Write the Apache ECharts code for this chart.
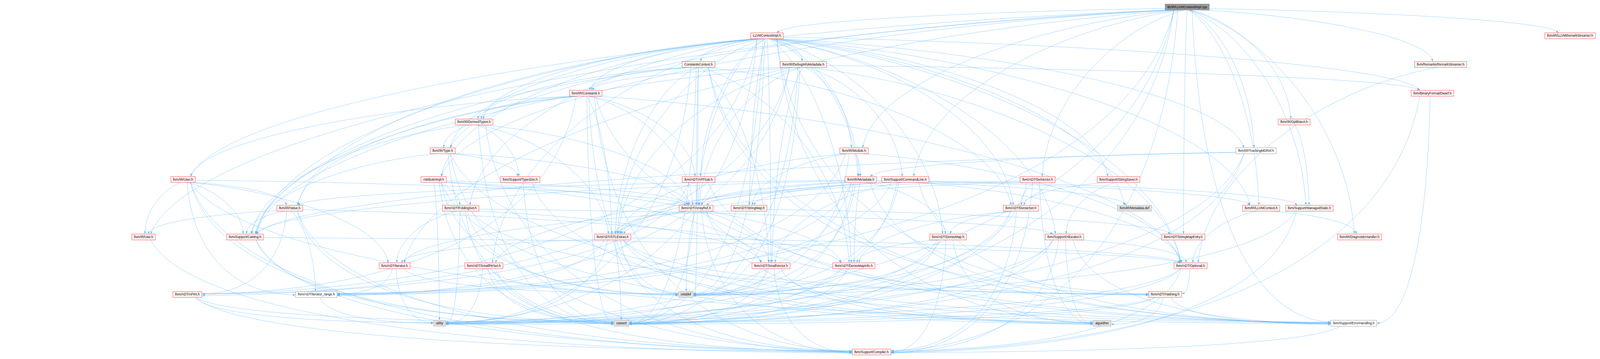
<!DOCTYPE html>
<html>
<head>
<meta charset="utf-8" />
<title>lib/IR/LLVMContextImpl.cpp include graph</title>
<script src="https://cdn.jsdelivr.net/npm/echarts@6/dist/echarts.min.js"></script>
<style>
    html, body { margin: 0; padding: 0; width: 100%; height: 100%; overflow: hidden; background: #ffffff; }
    #chart { width: 100vw; height: 100vh; }
</style>
</head>
<body>
<div id="chart"></div>
<script type="text/javascript">
// files in the graph, with the horizontal place and the row (rank)
var nodeNames = [
    'lib/IR/LLVMContextImpl.cpp',
    'LLVMContextImpl.h', 'llvm/IR/LLVMRemarkStreamer.h',
    'ConstantsContext.h', 'llvm/IR/DebugInfoMetadata.h', 'llvm/Remarks/RemarkStreamer.h',
    'llvm/IR/Constants.h', 'llvm/BinaryFormat/Dwarf.h',
    'llvm/IR/DerivedTypes.h', 'llvm/IR/OptBisect.h',
    'llvm/IR/Type.h', 'llvm/IR/Module.h', 'llvm/IR/TrackingMDRef.h',
    'llvm/IR/User.h', 'AttributeImpl.h', 'llvm/Support/TypeSize.h', 'llvm/ADT/APFloat.h',
    'llvm/IR/Metadata.h', 'llvm/Support/CommandLine.h', 'llvm/ADT/SetVector.h', 'llvm/Support/StringSaver.h',
    'llvm/IR/Value.h', 'llvm/ADT/FoldingSet.h', 'llvm/ADT/ArrayRef.h', 'llvm/ADT/StringMap.h',
    'llvm/ADT/DenseSet.h', 'llvm/IR/Metadata.def', 'llvm/IR/LLVMContext.h', 'llvm/Support/ManagedStatic.h',
    'llvm/IR/Use.h', 'llvm/Support/Casting.h', 'llvm/ADT/STLExtras.h', 'llvm/ADT/DenseMap.h',
    'llvm/Support/Allocator.h', 'llvm/ADT/StringMapEntry.h', 'llvm/IR/DiagnosticHandler.h',
    'llvm/ADT/iterator.h', 'llvm/ADT/SmallPtrSet.h', 'llvm/ADT/SmallVector.h', 'llvm/ADT/DenseMapInfo.h', 'llvm/ADT/Optional.h',
    'llvm/ADT/APInt.h', 'llvm/ADT/iterator_range.h', 'cstddef', 'llvm/ADT/Hashing.h',
    'utility', 'cassert', 'algorithm', 'llvm/Support/ErrorHandling.h',
    'llvm/Support/Compiler.h'
];
var nodeX = [
    4961,
    3205, 6561,
    2919, 3357, 6020,
    2448, 5986,
    1981, 5408,
    1850, 3569, 5249,
    765, 1812, 2174, 2919, 3597, 3783, 4336, 4674,
    1211, 1925, 2909, 3130, 4266, 4741, 5270, 5472,
    600, 1024, 2560, 3962, 4448, 4945, 5681,
    1649, 2022, 3222, 3568, 4975,
    783, 1322, 2866, 4869,
    1837, 2597, 4605, 5657,
    3642
];
var nodeRank = [
    0,
    1, 1,
    2, 2, 2,
    3, 3,
    4, 4,
    5, 5, 5,
    6, 6, 6, 6, 6, 6, 6, 6,
    7, 7, 7, 7, 7, 7, 7, 7,
    8, 8, 8, 8, 8, 8, 8,
    9, 9, 9, 9, 9,
    10, 10, 10, 10,
    11, 11, 11, 11,
    12
];
// root: the file itself, red: has more includes not shown, leaf: system header, plain: no hidden includes
var nodeKind = [
    'root',
    'red', 'red',
    'red', 'red', 'red',
    'red', 'red',
    'red', 'red',
    'red', 'red', 'plain',
    'red', 'red', 'red', 'red', 'red', 'red', 'red', 'red',
    'red', 'red', 'red', 'red', 'red', 'leaf', 'red', 'red',
    'red', 'red', 'red', 'red', 'red', 'red', 'red',
    'red', 'red', 'red', 'red', 'red',
    'red', 'plain', 'leaf', 'red',
    'leaf', 'leaf', 'leaf', 'plain',
    'red'
];

// who includes whom
var includes = [
    ['lib/IR/LLVMContextImpl.cpp', ['LLVMContextImpl.h', 'AttributeImpl.h', 'llvm/ADT/SetVector.h', 'llvm/ADT/StringMapEntry.h',
        'llvm/ADT/iterator.h', 'llvm/ADT/iterator_range.h', 'llvm/IR/DiagnosticHandler.h', 'llvm/IR/LLVMRemarkStreamer.h',
        'llvm/IR/Module.h', 'llvm/IR/OptBisect.h', 'llvm/IR/Type.h', 'llvm/IR/Use.h', 'llvm/IR/User.h',
        'llvm/Remarks/RemarkStreamer.h', 'llvm/Support/CommandLine.h', 'llvm/Support/Compiler.h',
        'llvm/Support/ErrorHandling.h', 'llvm/Support/ManagedStatic.h', 'llvm/IR/LLVMContext.h',
        'llvm/IR/TrackingMDRef.h', 'cassert', 'utility']],
    ['LLVMContextImpl.h', ['ConstantsContext.h', 'AttributeImpl.h', 'llvm/ADT/APFloat.h', 'llvm/ADT/APInt.h',
        'llvm/ADT/ArrayRef.h', 'llvm/ADT/DenseMap.h', 'llvm/ADT/DenseMapInfo.h', 'llvm/ADT/DenseSet.h',
        'llvm/ADT/FoldingSet.h', 'llvm/ADT/Hashing.h', 'llvm/ADT/Optional.h', 'llvm/ADT/STLExtras.h',
        'llvm/ADT/SmallPtrSet.h', 'llvm/ADT/SmallVector.h', 'llvm/ADT/StringMap.h', 'llvm/BinaryFormat/Dwarf.h',
        'llvm/IR/Constants.h', 'llvm/IR/DebugInfoMetadata.h', 'llvm/IR/DerivedTypes.h', 'llvm/IR/LLVMContext.h',
        'llvm/IR/Metadata.h', 'llvm/IR/Module.h', 'llvm/IR/TrackingMDRef.h', 'llvm/IR/Type.h', 'llvm/IR/Value.h',
        'llvm/Support/Allocator.h', 'llvm/Support/Casting.h', 'llvm/Support/StringSaver.h', 'llvm/IR/Metadata.def',
        'algorithm', 'cassert', 'cstddef', 'utility']],
    ['ConstantsContext.h', ['llvm/ADT/ArrayRef.h', 'llvm/ADT/DenseMapInfo.h', 'llvm/ADT/DenseSet.h', 'llvm/ADT/Hashing.h',
        'llvm/ADT/STLExtras.h', 'llvm/ADT/SmallVector.h', 'llvm/IR/Constants.h', 'llvm/IR/DerivedTypes.h',
        'llvm/Support/Casting.h', 'llvm/Support/ErrorHandling.h', 'cassert', 'cstddef', 'utility']],
    ['llvm/IR/DebugInfoMetadata.h', ['llvm/ADT/APInt.h', 'llvm/ADT/ArrayRef.h', 'llvm/ADT/Optional.h', 'llvm/ADT/STLExtras.h',
        'llvm/ADT/SmallVector.h', 'llvm/ADT/iterator_range.h', 'llvm/BinaryFormat/Dwarf.h', 'llvm/IR/Constants.h',
        'llvm/IR/Metadata.h', 'llvm/Support/Casting.h', 'llvm/Support/CommandLine.h', 'cassert', 'cstddef']],
    ['llvm/Remarks/RemarkStreamer.h', ['llvm/ADT/Optional.h']],
    ['llvm/IR/Constants.h', ['llvm/ADT/APFloat.h', 'llvm/ADT/APInt.h', 'llvm/ADT/ArrayRef.h', 'llvm/ADT/Optional.h',
        'llvm/ADT/STLExtras.h', 'llvm/IR/DerivedTypes.h', 'llvm/IR/User.h', 'llvm/IR/Value.h', 'llvm/Support/Casting.h',
        'llvm/Support/Compiler.h', 'llvm/Support/ErrorHandling.h', 'cassert', 'cstddef']],
    ['llvm/BinaryFormat/Dwarf.h', ['llvm/Support/Compiler.h', 'llvm/Support/ErrorHandling.h']],
    ['llvm/IR/DerivedTypes.h', ['llvm/ADT/ArrayRef.h', 'llvm/ADT/STLExtras.h', 'llvm/IR/Type.h', 'llvm/Support/Casting.h',
        'llvm/Support/Compiler.h', 'llvm/Support/TypeSize.h', 'cassert']],
    ['llvm/IR/OptBisect.h', ['llvm/Support/ManagedStatic.h']],
    ['llvm/IR/Type.h', ['llvm/ADT/ArrayRef.h', 'llvm/Support/Casting.h', 'llvm/Support/Compiler.h',
        'llvm/Support/ErrorHandling.h', 'llvm/Support/TypeSize.h', 'cassert']],
    ['llvm/IR/Module.h', ['llvm/ADT/Optional.h', 'llvm/ADT/STLExtras.h', 'llvm/ADT/StringMap.h',
        'llvm/ADT/iterator_range.h', 'llvm/IR/Metadata.h', 'cstddef']],
    ['llvm/IR/TrackingMDRef.h', ['llvm/IR/Metadata.h', 'llvm/Support/Casting.h', 'cassert', 'utility']],
    ['llvm/IR/User.h', ['llvm/ADT/ArrayRef.h', 'llvm/ADT/iterator.h', 'llvm/ADT/iterator_range.h', 'llvm/IR/Use.h',
        'llvm/IR/Value.h', 'llvm/Support/Casting.h', 'llvm/Support/Compiler.h', 'llvm/Support/ErrorHandling.h', 'cassert']],
    ['AttributeImpl.h', ['llvm/ADT/ArrayRef.h', 'llvm/ADT/DenseMapInfo.h', 'llvm/ADT/FoldingSet.h',
        'llvm/ADT/SmallVector.h', 'algorithm', 'cassert', 'cstddef', 'utility']],
    ['llvm/Support/TypeSize.h', ['algorithm', 'cassert']],
    ['llvm/ADT/APFloat.h', ['llvm/ADT/APInt.h', 'llvm/ADT/ArrayRef.h', 'llvm/Support/ErrorHandling.h']],
    ['llvm/IR/Metadata.h', ['llvm/ADT/ArrayRef.h', 'llvm/ADT/DenseMap.h', 'llvm/ADT/DenseMapInfo.h', 'llvm/ADT/STLExtras.h',
        'llvm/ADT/iterator_range.h', 'llvm/IR/LLVMContext.h', 'llvm/IR/Value.h', 'llvm/IR/Metadata.def',
        'llvm/Support/Casting.h', 'llvm/Support/ErrorHandling.h', 'cassert', 'cstddef', 'utility']],
    ['llvm/Support/CommandLine.h', ['llvm/ADT/Optional.h', 'llvm/ADT/STLExtras.h', 'llvm/ADT/SmallPtrSet.h',
        'llvm/ADT/SmallVector.h', 'llvm/ADT/StringMap.h', 'llvm/ADT/iterator_range.h', 'llvm/Support/ErrorHandling.h',
        'llvm/Support/ManagedStatic.h', 'cassert', 'cstddef']],
    ['llvm/ADT/SetVector.h', ['llvm/ADT/ArrayRef.h', 'llvm/ADT/DenseSet.h', 'llvm/ADT/STLExtras.h',
        'llvm/Support/Compiler.h', 'algorithm', 'cassert']],
    ['llvm/Support/StringSaver.h', ['llvm/ADT/DenseSet.h', 'llvm/Support/Allocator.h']],
    ['llvm/IR/Value.h', ['llvm/ADT/APInt.h', 'llvm/ADT/DenseMapInfo.h', 'llvm/ADT/iterator_range.h', 'llvm/IR/Use.h',
        'llvm/Support/Casting.h', 'llvm/Support/Compiler.h', 'cassert']],
    ['llvm/ADT/FoldingSet.h', ['llvm/ADT/Hashing.h', 'llvm/ADT/SmallVector.h', 'llvm/ADT/iterator.h',
        'llvm/Support/Allocator.h', 'cassert', 'cstddef', 'utility']],
    ['llvm/ADT/ArrayRef.h', ['llvm/ADT/Hashing.h', 'llvm/ADT/STLExtras.h', 'llvm/ADT/SmallVector.h',
        'llvm/Support/Compiler.h', 'algorithm', 'cassert', 'cstddef']],
    ['llvm/ADT/StringMap.h', ['llvm/ADT/StringMapEntry.h', 'llvm/ADT/iterator.h']],
    ['llvm/ADT/DenseSet.h', ['llvm/ADT/DenseMap.h', 'llvm/ADT/DenseMapInfo.h', 'llvm/Support/Compiler.h', 'cstddef', 'utility']],
    ['llvm/IR/LLVMContext.h', ['llvm/IR/DiagnosticHandler.h', 'llvm/ADT/Optional.h']],
    ['llvm/Support/ManagedStatic.h', ['llvm/Support/Compiler.h', 'cstddef']],
    ['llvm/IR/Use.h', ['llvm/Support/Compiler.h']],
    ['llvm/Support/Casting.h', ['llvm/ADT/Optional.h', 'llvm/Support/Compiler.h', 'cassert']],
    ['llvm/ADT/STLExtras.h', ['llvm/ADT/Hashing.h', 'llvm/ADT/Optional.h', 'llvm/ADT/iterator.h', 'llvm/ADT/iterator_range.h',
        'llvm/Support/Compiler.h', 'llvm/Support/ErrorHandling.h', 'algorithm', 'cassert', 'cstddef', 'utility']],
    ['llvm/ADT/DenseMap.h', ['llvm/ADT/DenseMapInfo.h', 'llvm/Support/Compiler.h', 'algorithm', 'cassert', 'cstddef', 'utility']],
    ['llvm/Support/Allocator.h', ['llvm/ADT/Optional.h', 'llvm/Support/Compiler.h', 'llvm/Support/ErrorHandling.h',
        'algorithm', 'cassert', 'cstddef', 'utility']],
    ['llvm/ADT/iterator.h', ['llvm/ADT/iterator_range.h', 'cstddef', 'utility']],
    ['llvm/ADT/SmallPtrSet.h', ['llvm/Support/Compiler.h', 'cassert', 'cstddef', 'utility']],
    ['llvm/ADT/SmallVector.h', ['llvm/Support/Compiler.h', 'algorithm', 'cassert', 'cstddef', 'utility']],
    ['llvm/ADT/DenseMapInfo.h', ['cassert', 'cstddef', 'utility']],
    ['llvm/ADT/Optional.h', ['llvm/ADT/Hashing.h', 'llvm/Support/Compiler.h', 'cassert', 'utility']],
    ['llvm/ADT/APInt.h', ['llvm/Support/Compiler.h', 'cassert', 'utility']],
    ['llvm/ADT/iterator_range.h', ['utility']],
    ['llvm/ADT/Hashing.h', ['llvm/Support/ErrorHandling.h', 'algorithm', 'cassert', 'utility']],
    ['llvm/Support/ErrorHandling.h', ['llvm/Support/Compiler.h']]
];

// sizes below are in pixels of the 6686 x 920 picture, scaled to the page at draw time
var FULL_W = 6686, FULL_H = 920;
var FONT_PX = 13.5;
var FONT_FAMILY = '"Liberation Sans", Arial, Helvetica, sans-serif';
var ROW0 = 18;        // centre of the first row
var ROW_GAP = 73.67;  // distance between rows
var BOX_H = 25;
var PAD_X = 9.5;
var EDGE = '#63b8ff';

var kindStyle = {
    root: { fill: '#999999', stroke: '#666666' },
    red: { fill: '#fff0f0', stroke: '#ff0000' },
    leaf: { fill: '#e0e0e0', stroke: '#999999' },
    plain: { fill: '#ffffff', stroke: '#666666' }
};

var dom = document.getElementById('chart');
var S = Math.min(dom.clientWidth / FULL_W, dom.clientHeight / FULL_H);
var FONT = (FONT_PX * S) + 'px ' + FONT_FAMILY;
var LW = Math.max(S, 0.6);

// box widths follow the label text
var ctx = document.createElement('canvas').getContext('2d');
ctx.font = FONT_PX + 'px ' + FONT_FAMILY;
var boxW = nodeNames.map(function (n) {
    return Math.round(ctx.measureText(n).width + 2 * PAD_X);
});

var index = {};
nodeNames.forEach(function (n, i) { index[n] = i; });

var edgeData = [];
includes.forEach(function (inc) {
    var s = index[inc[0]];
    inc[1].forEach(function (name) {
        var t = index[name];
        edgeData.push([nodeX[s], nodeRank[s], nodeX[t], nodeRank[t], s, t]);
    });
});

function clamp(v, lo, hi) { return Math.max(lo, Math.min(hi, v)); }

// point where a ray from the box centre leaves the box
function boxExit(c, dx, dy, hw, hh) {
    var len = Math.sqrt(dx * dx + dy * dy) || 1;
    var ux = dx / len, uy = dy / len;
    var tx = ux !== 0 ? hw / Math.abs(ux) : Infinity;
    var ty = uy !== 0 ? hh / Math.abs(uy) : Infinity;
    var k = Math.min(tx, ty);
    return [c[0] + ux * k, c[1] + uy * k];
}

function renderEdge(params, api) {
    var s = api.value(4), t = api.value(5);
    var a = api.coord([api.value(0), api.value(1)]);
    var b = api.coord([api.value(2), api.value(3)]);
    var hwS = boxW[s] * S / 2, hwT = boxW[t] * S / 2, hh = BOX_H * S / 2;
    var dx = b[0] - a[0], dy = b[1] - a[1];
    var p0, p3, c1, c2, DX, DY;

    if (nodeRank[t] >= 10 && Math.abs(dx) > hwT * 1.5) {
        // down first, then in from the side of the low node
        p0 = [a[0] + clamp(dx * 0.03, -0.6 * hwS, 0.6 * hwS), a[1] + hh];
        p3 = [b[0] - (dx > 0 ? 1 : -1) * (hwT + LW), b[1] + ((s % 5) - 2) * 0.18 * hh];
        DX = p3[0] - p0[0]; DY = p3[1] - p0[1];
        c1 = [p0[0] + 0.05 * DX, p0[1] + 0.6 * DY];
        c2 = [p3[0] - 0.6 * DX, p3[1] - 0.02 * DY];
    } else {
        // out sideways, then down into the top of the node
        p0 = boxExit(a, dx, dy, hwS, hh);
        p3 = [b[0] - clamp(dx * 0.03, -0.6 * hwT, 0.6 * hwT), b[1] - hh - LW];
        DX = p3[0] - p0[0]; DY = p3[1] - p0[1];
        c1 = [p0[0] + 0.45 * DX, p0[1] + 0.1 * DY];
        c2 = [p3[0] - 0.05 * DX, p3[1] - 0.5 * DY];
    }

    // arrow head along the end tangent
    var ex = p3[0] - c2[0], ey = p3[1] - c2[1];
    var el = Math.sqrt(ex * ex + ey * ey) || 1;
    ex /= el; ey /= el;
    var aL = 10 * S, aW = 3.6 * S;
    var base = [p3[0] - ex * aL, p3[1] - ey * aL];
    var head = [[p3[0], p3[1]], [base[0] - ey * aW, base[1] + ex * aW], [base[0] + ey * aW, base[1] - ex * aW]];

    return {
        type: 'group',
        children: [{
            type: 'bezierCurve',
            shape: {
                x1: p0[0], y1: p0[1], x2: base[0], y2: base[1],
                cpx1: c1[0], cpy1: c1[1], cpx2: c2[0], cpy2: c2[1]
            },
            style: { stroke: EDGE, fill: null, lineWidth: LW }
        }, {
            type: 'polygon',
            shape: { points: head },
            style: { fill: EDGE, stroke: EDGE, lineWidth: LW * 0.5 }
        }]
    };
}

function renderNode(params, api) {
    var i = api.value(2);
    var c = api.coord([api.value(0), api.value(1)]);
    var st = kindStyle[nodeKind[i]];
    var w = boxW[i] * S, h = BOX_H * S;
    return {
        type: 'group',
        children: [{
            type: 'rect',
            shape: { x: c[0] - w / 2, y: c[1] - h / 2, width: w, height: h },
            style: { fill: st.fill, stroke: st.stroke, lineWidth: LW }
        }, {
            type: 'text',
            x: c[0],
            y: c[1] + 0.5 * S,
            style: {
                text: nodeNames[i],
                font: FONT,
                fill: '#000000',
                align: 'center',
                verticalAlign: 'middle'
            }
        }]
    };
}

var myChart = echarts.init(dom);

myChart.setOption({
    backgroundColor: '#ffffff',
    animation: false,
    grid: { left: 0, right: 0, top: 0, bottom: 0 },
    xAxis: { type: 'value', min: 0, max: FULL_W, show: false },
    yAxis: {
        type: 'value',
        inverse: true,
        min: -ROW0 / ROW_GAP,
        max: (FULL_H - ROW0) / ROW_GAP,
        show: false
    },
    series: [{
        type: 'custom',
        coordinateSystem: 'cartesian2d',
        data: edgeData,
        silent: true,
        clip: false,
        z: 1,
        renderItem: renderEdge
    }, {
        type: 'custom',
        coordinateSystem: 'cartesian2d',
        data: nodeNames.map(function (n, i) { return [nodeX[i], nodeRank[i], i]; }),
        silent: true,
        z: 2,
        renderItem: renderNode
    }]
});
</script>
</body>
</html>
